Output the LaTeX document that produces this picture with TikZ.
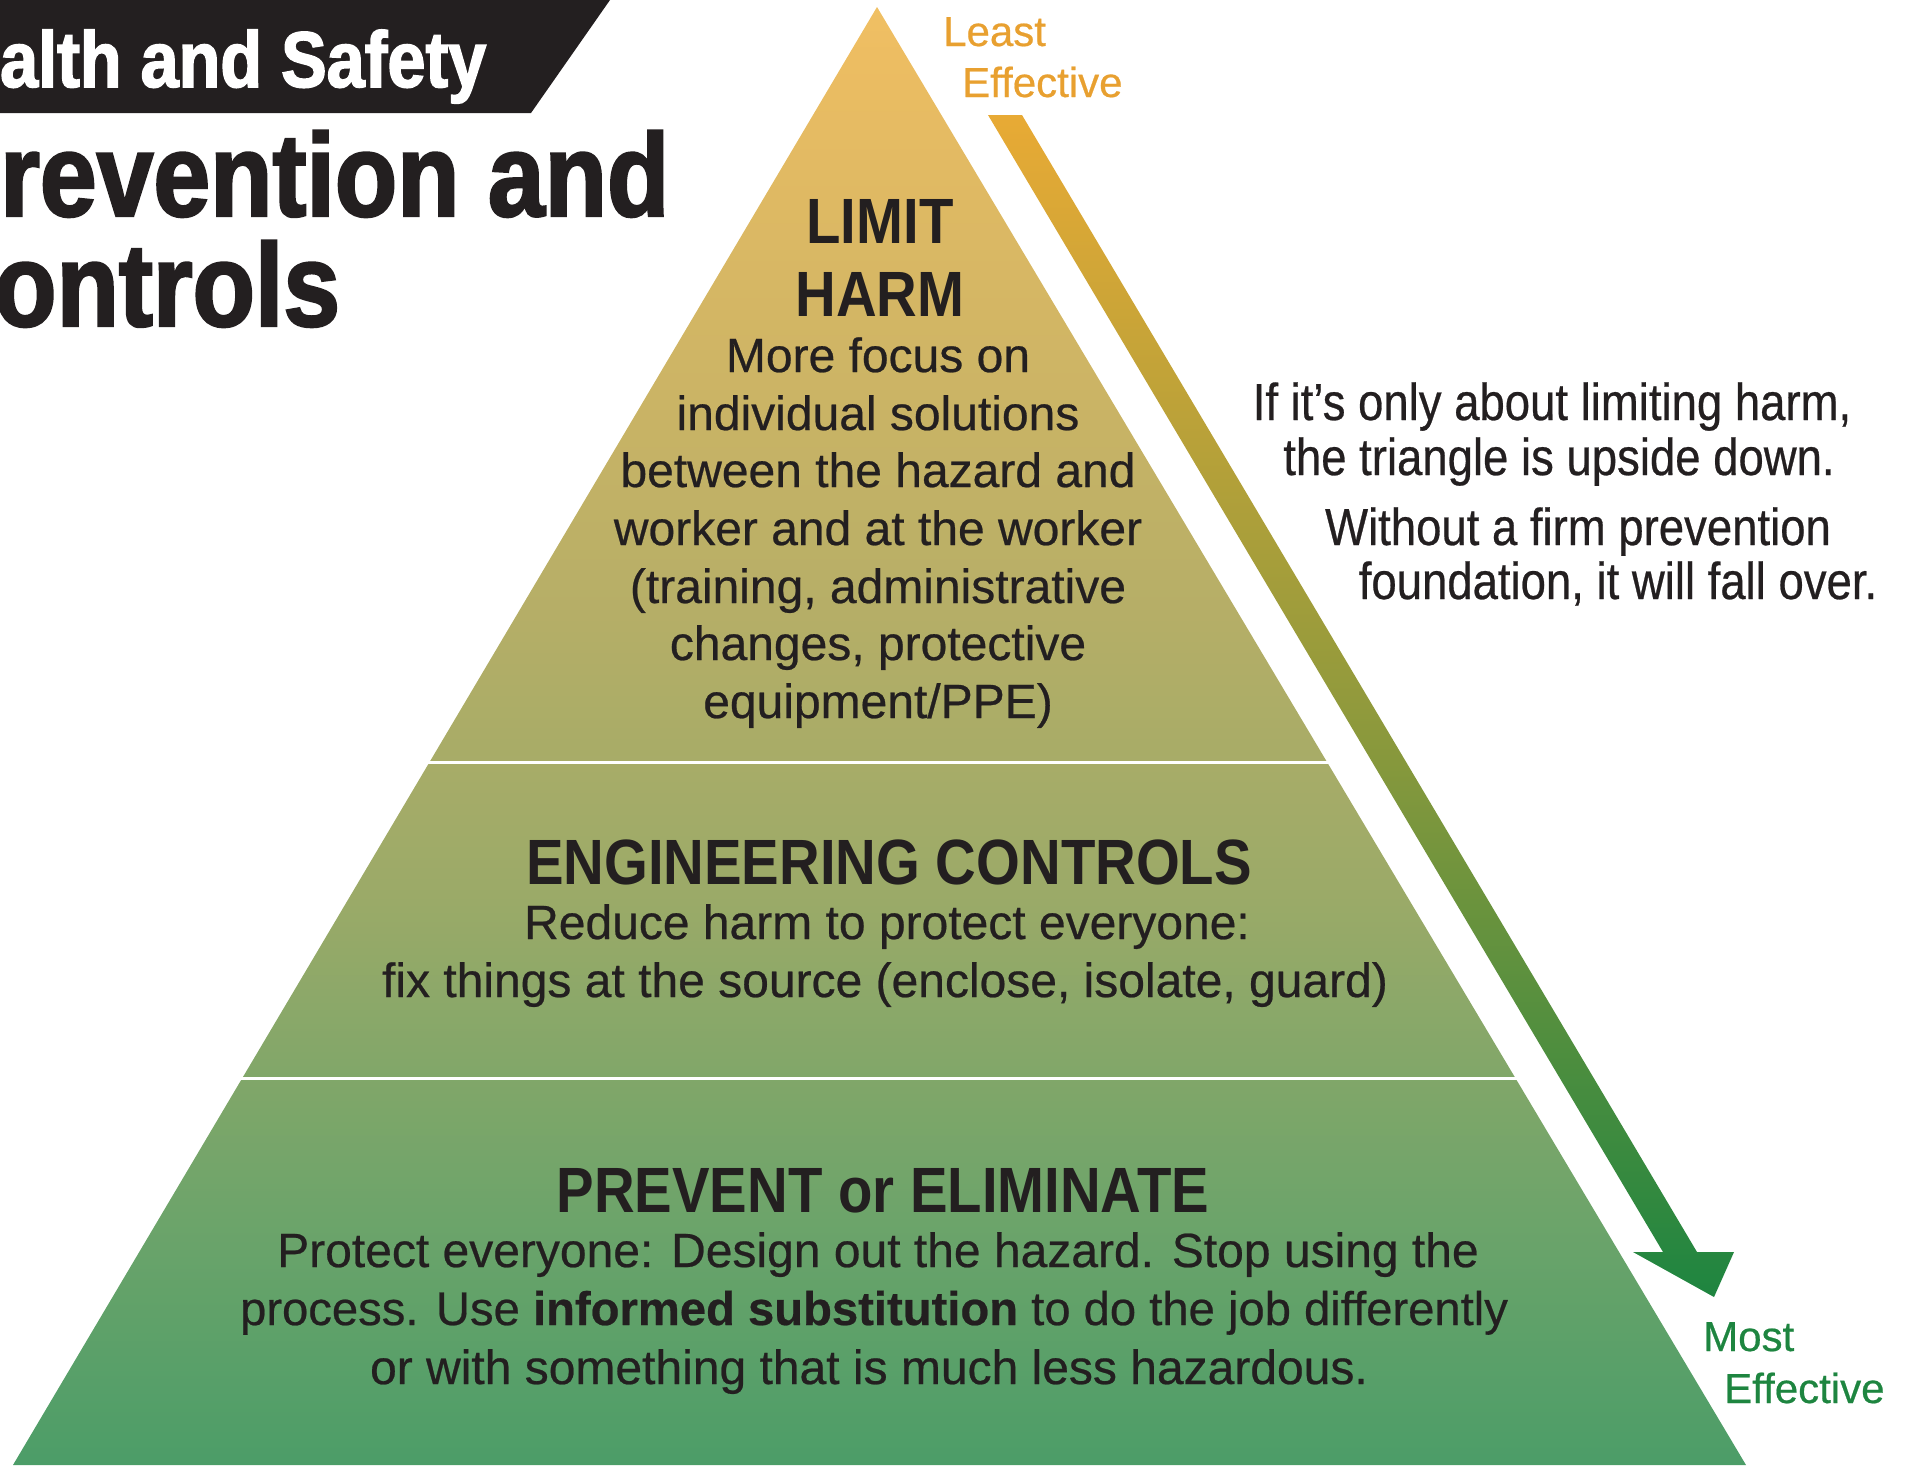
\documentclass[tikz,border=0pt]{standalone}
\usepackage{fontspec}
\setmainfont[FakeBold=0.5]{Liberation Sans}
\newfontfamily\titlefont[FakeStretch=0.865,FakeBold=2]{Liberation Sans}
\newfontfamily\headfont[FakeStretch=0.88]{Liberation Sans}
\newfontfamily\sidefont[FakeStretch=0.875,FakeBold=0.5]{Liberation Sans}

\definecolor{ink}{RGB}{35,31,32}
\definecolor{pyrTop}{RGB}{240,192,100}
\definecolor{pyrA}{RGB}{237,189,98}
\definecolor{pyrB}{RGB}{181,174,103}
\definecolor{pyrC}{RGB}{155,170,104}
\definecolor{pyrD}{RGB}{109,164,106}
\definecolor{pyrBottom}{RGB}{76,157,104}
\definecolor{arrTop}{RGB}{232,170,53}
\definecolor{arrMid}{RGB}{145,154,60}
\definecolor{arrBottom}{RGB}{30,133,64}
\definecolor{leastc}{RGB}{232,160,48}
\definecolor{mostc}{RGB}{30,133,64}

% pyramid: apex at y=7, base at y=1465
\pgfdeclareverticalshading{pyramidfill}{100bp}{%
  color(0bp)=(pyrBottom); color(25bp)=(pyrBottom);
  color(33.57bp)=(pyrD); color(44.55bp)=(pyrC);
  color(54.15bp)=(pyrB); color(73.35bp)=(pyrA);
  color(75bp)=(pyrTop); color(100bp)=(pyrTop)}
\pgfdeclareverticalshading{arrowfill}{100bp}{%
  color(0bp)=(arrBottom); color(25bp)=(arrBottom);
  color(50bp)=(arrMid);
  color(75bp)=(arrTop); color(100bp)=(arrTop)}

\tikzset{
  body/.style={inner sep=0pt, anchor=base, text=ink,
    font=\fontsize{48}{58}\selectfont},
  tierhead/.style={inner sep=0pt, anchor=base, text=ink,
    font=\headfont\bfseries\fontsize{64}{72}\selectfont},
  side/.style={inner sep=0pt, anchor=base, text=ink,
    font=\sidefont\fontsize{52}{60}\selectfont},
  title/.style={inner sep=0pt, anchor=base west, text=ink,
    font=\titlefont\bfseries\fontsize{118}{130}\selectfont},
  effect/.style={inner sep=0pt, anchor=base west,
    font=\fontsize{42}{50}\selectfont},
  divider/.style={white, line width=3pt}
}

\begin{document}
\begin{tikzpicture}[x=1pt,y=-1pt]
\useasboundingbox (0,0) rectangle (1905,1465);

% header bar and title
\fill[ink] (0,0) -- (610,0) -- (531,113) -- (0,113) -- cycle;
\node[title, text=white, font=\titlefont\bfseries\fontsize{79}{90}\selectfont]
  (banner) at (0,87) {alth and Safety};
\node[title] (title1) at (0,216) {revention and};
\node[title] (title2) at (-6,326) {ontrols};

% pyramid
\path[shading=pyramidfill] (877,7) -- (1746,1465) -- (13,1465) -- cycle;
\draw[divider] (400,762) -- (1350,762);
\draw[divider] (200,1078) -- (1545,1078);

% effectiveness arrow
\path[shading=arrowfill]
  (988,115) -- (1022,115) -- (1697,1252) -- (1734,1252) -- (1714,1297)
  -- (1633,1252) -- (1663,1252) -- cycle;

% top tier
\node[tierhead] (limit) at (880,243) {LIMIT};
\node[tierhead] (harm) at (880,316) {HARM};
\foreach \yy/\tt [count=\i] in {
  372/{More focus on},
  430/{individual solutions},
  487/{between the hazard and},
  545/{worker and at the worker},
  603/{(training, administrative},
  660/{changes, protective},
  718/{equipment/PPE)}}
  \node[body] (limitline\i) at (878,\yy) {\tt};

% middle tier
\node[tierhead] (eng) at (889,884) {ENGINEERING CONTROLS};
\node[body] (engline1) at (887,939) {Reduce harm to protect everyone:};
\node[body] (engline2) at (885,997) {fix things at the source (enclose, isolate, guard)};

% bottom tier
\node[tierhead] (prev) at (883,1212) {PREVENT or ELIMINATE};
\node[body] (prevline1) at (878,1267) {Protect everyone: Design out the hazard. Stop using the};
\node[body, font=\fontsize{47.2}{58}\selectfont] (prevline2) at (874,1325)
  {process. Use \textbf{informed substitution} to do the job differently};
\node[body] (prevline3) at (869,1384) {or with something that is much less hazardous.};

% side notes
\node[side] (note1) at (1552,420) {If it’s only about limiting harm,};
\node[side] (note2) at (1559,475) {the triangle is upside down.};
\node[side] (note3) at (1578,545) {Without a firm prevention};
\node[side] (note4) at (1618,599) {foundation, it will fall over.};

% effectiveness labels
\node[effect, text=leastc] (least1) at (943,46) {Least};
\node[effect, text=leastc] (least2) at (962,97) {Effective};
\node[effect, text=mostc] (most1) at (1703,1351) {Most};
\node[effect, text=mostc] (most2) at (1724,1403) {Effective};
\end{tikzpicture}
\end{document}
